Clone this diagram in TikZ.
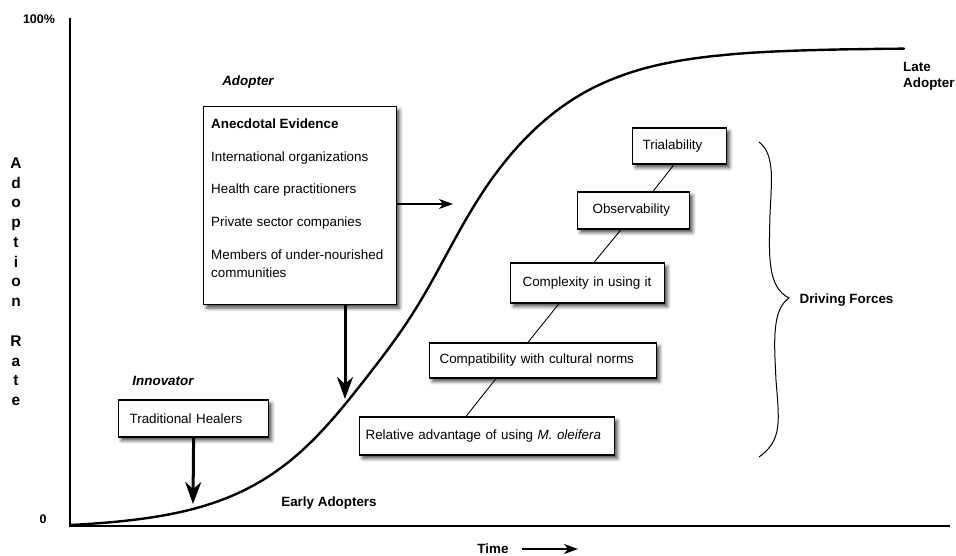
\documentclass[tikz,border=0pt]{standalone}
\usepackage{fontspec}
\setmainfont{Liberation Sans}
\usetikzlibrary{arrows.meta,shadows.blur,calc}
\newcommand\fsz{\fontsize{13.4}{16}\selectfont}
\begin{document}
\begin{tikzpicture}[x=1pt,y=-1pt,
  box/.style={draw, line width=1.2pt, fill=white,
    blur shadow={shadow xshift=3pt, shadow yshift=-3.5pt, shadow blur radius=3.5pt, shadow opacity=70},
    inner ysep=0pt, align=left, font=\fsz},
  lab/.style={font=\bfseries\fsz},
  ilab/.style={font=\bfseries\itshape\fsz},
  txt/.style={font=\fsz, inner sep=0pt},
  ylet/.style={font=\bfseries\fontsize{15.5}{18}\selectfont, anchor=base, inner sep=0pt},
  bigarrow/.style={line width=3pt, -{Stealth[length=22pt,width=16pt,inset=7pt]}},
  thinarrow/.style={line width=1.5pt, -{Stealth[length=14pt,width=10pt,inset=4pt]}},
  link/.style={line width=0.9pt},
  curve/.style={line width=2.4pt, line cap=round}
]
\useasboundingbox (0,0) rectangle (956,556);

% axes
\coordinate (ytop) at (70,18);
\coordinate (orig) at (70,526);
\coordinate (xend) at (950,526);
\draw[line width=2pt] (ytop) -- (orig) -- (xend);
\node[font=\bfseries\fontsize{12.5}{15}\selectfont] (pct) at (39,19) {100\%};
\node[font=\bfseries\fontsize{12.5}{15}\selectfont] (zero) at (43,519) {0};

% vertical axis label
\foreach \ch [count=\i from 0] in {A,d,o,p,t,i,o,n}
  \node[ylet] (ya\i) at (16,{168.5+19.75*\i}) {\ch};
\foreach \ch [count=\i from 9] in {R,a,t,e}
  \node[ylet] (yb\i) at (16,{168.5+19.75*\i}) {\ch};

% time label
\node[lab] (time) at (493,549) {Time};
\coordinate (tend) at (578,549);
\draw[thinarrow] ([xshift=10pt]time.east) -- (tend);

% S-curve (adoption curve)
\draw[curve] plot[domain=70:904, samples=160, smooth]
  (\x, {525 - 477*(1/(1+exp(-(\x-420-8*exp(-((\x-420)/50)*((\x-420)/50)))/72)) - 0.00767)/0.99233});

% labels
\node[ilab] (adopter) at (248,82) {Adopter};
\node[ilab] (innov) at (163,381) {Innovator};
\node[lab] (early) at (329,503) {Early Adopters};
\node[lab, align=left, anchor=west, inner sep=0pt] (late) at (903,76) {Late\\Adopter};
\node[lab] (drive) at (846.5,300) {Driving Forces};

% anecdotal evidence box
\node[box, anchor=north west, minimum width=193pt, minimum height=198pt] (anec) at (203,106) {};
\node[txt, font=\bfseries\fsz, anchor=base west] (ae0) at (211,129) {Anecdotal Evidence};
\node[txt, anchor=base west] (ae1) at (211,162) {International organizations};
\node[txt, anchor=base west] (ae2) at (211,194) {Health care practitioners};
\node[txt, anchor=base west] (ae3) at (211,227) {Private sector companies};
\node[txt, anchor=base west] (ae4) at (211,260) {Members of under-nourished};
\node[txt, anchor=base west] (ae5) at (211,277) {communities};

% traditional healers
\node[box, anchor=west, minimum height=37pt, inner xsep=11pt, text width=128pt] (trad) at (118,418.5) {Traditional Healers};

% driving force boxes
\node[box, anchor=west, minimum height=36pt, inner xsep=10pt, text width=74pt] (tri) at (632,146) {Trialability};
\node[box, anchor=west, minimum height=37pt, inner xsep=15pt, text width=82pt] (obs) at (577,210.5) {Observability};
\node[box, anchor=west, minimum height=40pt, inner xsep=12pt, text width=130pt] (cplx) at (510,283) {Complexity in using it};
\node[box, anchor=west, minimum height=35pt, inner xsep=10pt, text width=207pt] (cmpt) at (429,360.5) {Compatibility with cultural norms};
\node[box, anchor=west, minimum height=38pt, inner xsep=6pt, text width=243pt] (rel) at (359,436) {Relative advantage of using \textit{M. oleifera}};

\draw[link] ([xshift=42pt]tri.south west) -- ([xshift=76pt]obs.north west);
\draw[link] ([xshift=44pt]obs.south west) -- ([xshift=84pt]cplx.north west);
\draw[link] ([xshift=49pt]cplx.south west) -- ([xshift=99pt]cmpt.north west);
\draw[link] ([xshift=67pt]cmpt.south west) -- ([xshift=107pt]rel.north west);

% arrows to curve
\coordinate (c1) at (193,504);
\coordinate (c2) at (345,399);
\coordinate (c3) at (453,204);
\draw[bigarrow] (trad.south) -- (c1);
\draw[bigarrow] ([xshift=142pt]anec.south west) -- (c2);
\draw[thinarrow] ([yshift=-98pt]anec.north east) -- (c3);

% brace
\draw[line width=1pt] (759,142) .. controls (776,155) and (771,185) .. (770,215)
  .. controls (769,255) and (767,287) .. (789,298)
  .. controls (772,310) and (774,340) .. (776,380)
  .. controls (779,420) and (783,440) .. (759,457);
\end{tikzpicture}
\end{document}
